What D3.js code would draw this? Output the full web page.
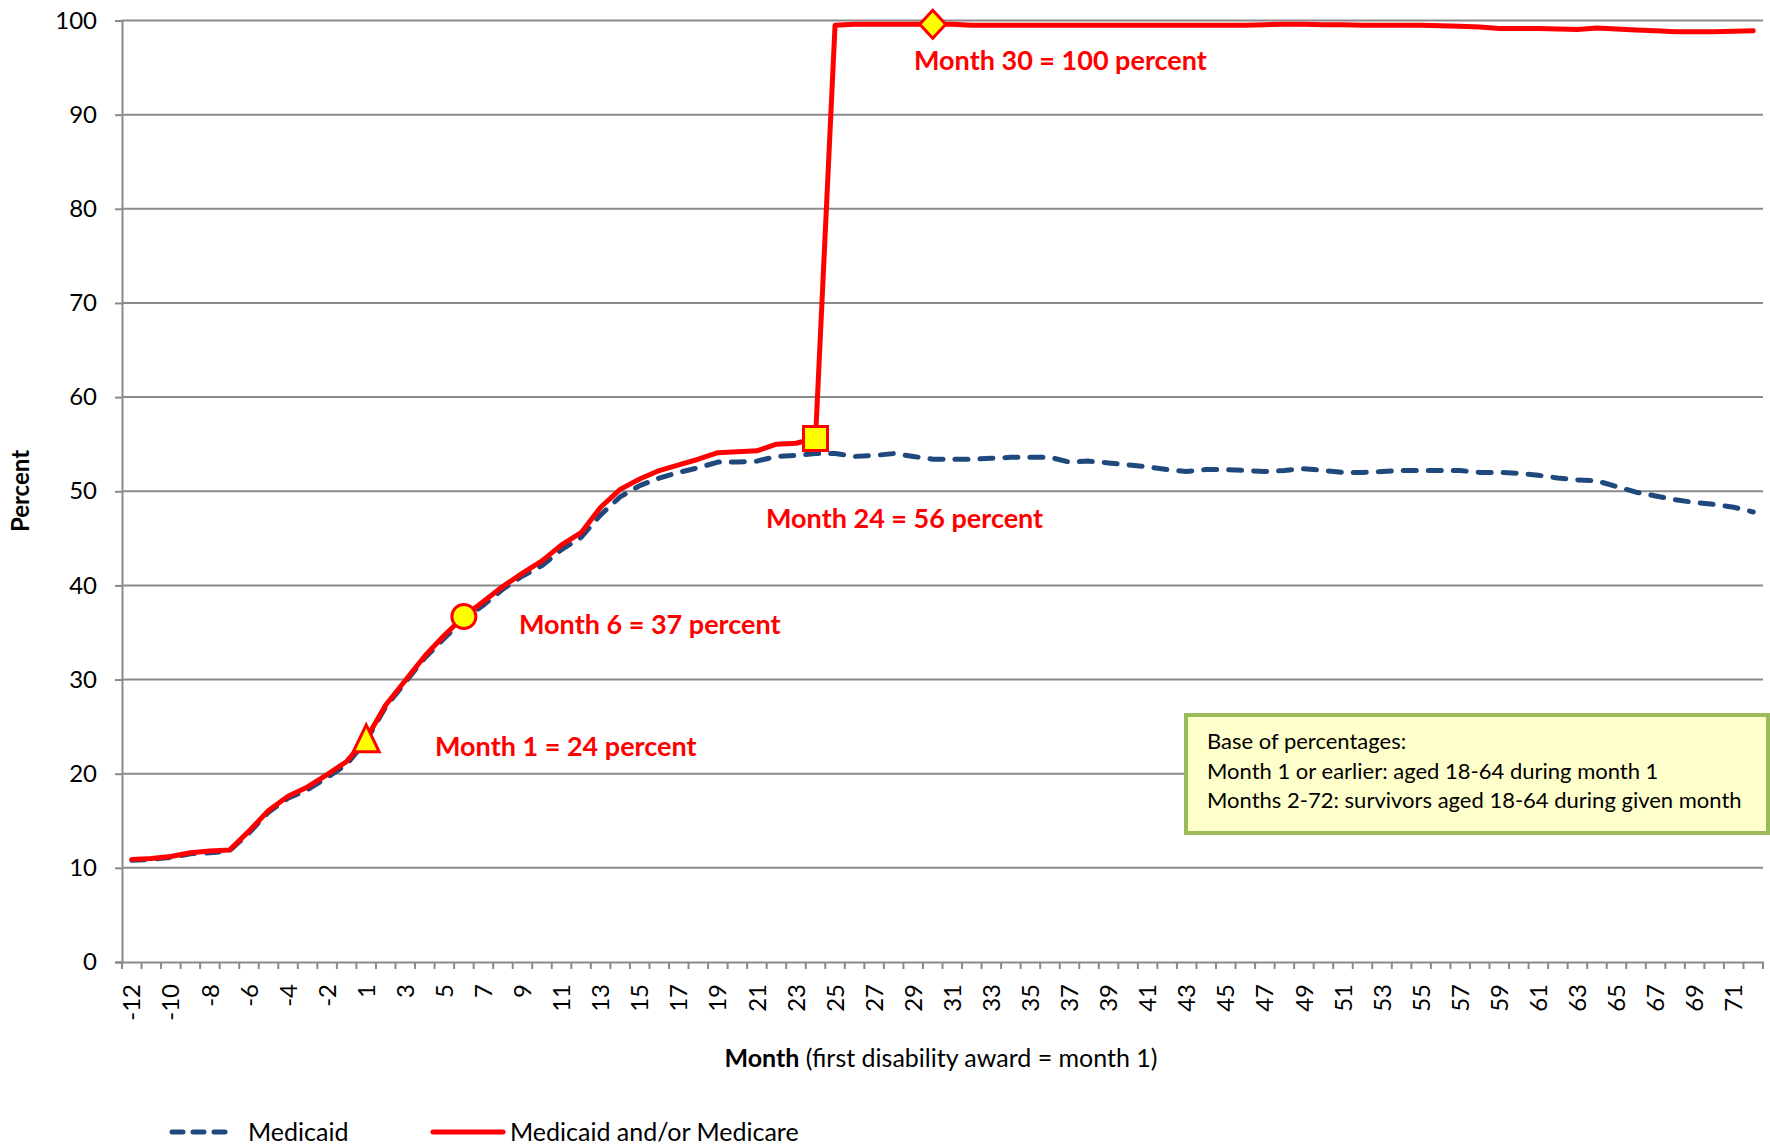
<!DOCTYPE html>
<html>
<head>
<meta charset="utf-8">
<script src="https://cdn.jsdelivr.net/npm/d3@7"></script>
<style>
  html, body { margin: 0; padding: 0; background: #ffffff; }
  svg { display: block; }
  text { font-family: Lato, "Noto Sans", sans-serif; fill: #000; }
</style>
</head>
<body>
<svg id="chart" width="1770" height="1146"></svg>
<script>
// Months relative to first disability award (there is no month 0)
const months = [-12, -11, -10, -9, -8, -7, -6, -5, -4, -3, -2, -1,
  1, 2, 3, 4, 5, 6, 7, 8, 9, 10, 11, 12, 13, 14, 15, 16, 17, 18, 19, 20,
  21, 22, 23, 24, 25, 26, 27, 28, 29, 30, 31, 32, 33, 34, 35, 36, 37, 38,
  39, 40, 41, 42, 43, 44, 45, 46, 47, 48, 49, 50, 51, 52, 53, 54, 55, 56,
  57, 58, 59, 60, 61, 62, 63, 64, 65, 66, 67, 68, 69, 70, 71, 72];

// Percent covered by Medicaid
const medicaid = [10.8, 10.9, 11.1, 11.5, 11.6, 11.8, 13.7, 15.9, 17.4, 18.3, 19.6, 21.0,
  23.5, 27.1, 29.7, 32.3, 34.4, 36.4, 37.9, 39.6, 41.0, 42.1, 43.8, 45.1,
  47.5, 49.4, 50.6, 51.4, 52.0, 52.5, 53.1, 53.1, 53.2, 53.7, 53.8, 54.0,
  54.0, 53.7, 53.8, 54.0, 53.7, 53.4, 53.4, 53.4, 53.5, 53.6, 53.6, 53.6,
  53.1, 53.2, 53.0, 52.8, 52.6, 52.3, 52.1, 52.3, 52.3, 52.2, 52.1, 52.2,
  52.4, 52.2, 52.0, 52.0, 52.1, 52.2, 52.2, 52.2, 52.2, 52.0, 52.0, 51.9,
  51.7, 51.4, 51.2, 51.1, 50.5, 49.9, 49.5, 49.1, 48.8, 48.6, 48.3, 47.8];

// Percent covered by Medicaid and/or Medicare
const medicaidOrMedicare = [10.9, 11.0, 11.2, 11.6, 11.8, 11.9, 13.9, 16.1, 17.6, 18.6, 19.9, 21.3,
  23.7, 27.3, 29.9, 32.5, 34.7, 36.7, 38.3, 39.9, 41.3, 42.6, 44.3, 45.6,
  48.3, 50.2, 51.3, 52.2, 52.8, 53.4, 54.1, 54.2, 54.3, 55.0, 55.1, 55.6,
  99.5, 99.6, 99.6, 99.6, 99.6, 99.6, 99.6, 99.5, 99.5, 99.5, 99.5, 99.5,
  99.5, 99.5, 99.5, 99.5, 99.5, 99.5, 99.5, 99.5, 99.5, 99.5, 99.55, 99.6,
  99.6, 99.55, 99.55, 99.5, 99.5, 99.5, 99.5, 99.45, 99.4, 99.3, 99.15, 99.15,
  99.15, 99.1, 99.05, 99.2, 99.1, 99.0, 98.9, 98.8, 98.8, 98.8, 98.85, 98.9];

const yTicks = [0, 10, 20, 30, 40, 50, 60, 70, 80, 90, 100];
const xLabelMonths = months.filter((m, i) => i % 2 === 0);

// Highlighted months on the combined series
const highlights = [
  { month: 1, shape: "triangle" },
  { month: 6, shape: "circle" },
  { month: 24, shape: "square" },
  { month: 30, shape: "diamond" }
];

const seriesNames = ["Medicaid", "Medicaid and/or Medicare"];
const noteLines = [
  "Base of percentages:",
  "Month 1 or earlier: aged 18-64 during month 1",
  "Months 2-72: survivors aged 18-64 during given month"
];

const RED = "#ff0000", BLUE = "#1f497d", YELLOW = "#ffff00", GRID = "#8a8a8a";

const svg = d3.select("#chart");
const plot = { left: 122, right: 1763, top: 20.5, bottom: 962 };

const x = d3.scaleBand().domain(months).range([plot.left, plot.right]).padding(0);
const xEdge = d3.scaleLinear().domain([0, months.length]).range([plot.left, plot.right]);
const y = d3.scaleLinear().domain([0, 100]).range([plot.bottom, plot.top]);
const cx = m => x(m) + x.bandwidth() / 2;

// Horizontal gridlines
svg.append("g").selectAll("line")
  .data(yTicks.filter(v => v > 0))
  .join("line")
  .attr("x1", plot.left).attr("x2", plot.right)
  .attr("y1", d => y(d)).attr("y2", d => y(d))
  .attr("stroke", GRID).attr("stroke-width", 2);

// Y axis
const yAxis = svg.append("g")
  .attr("transform", `translate(${plot.left},0)`)
  .call(d3.axisLeft(y).tickValues(yTicks).tickSize(7).tickPadding(18));
yAxis.select(".domain").attr("stroke", GRID).attr("stroke-width", 2);
yAxis.selectAll(".tick line").attr("stroke", GRID).attr("stroke-width", 2);
yAxis.selectAll(".tick text").attr("font-size", 24).attr("font-family", "Lato").attr("fill", "#000");

// X axis: boundary ticks between categories
svg.append("g").selectAll("line")
  .data(d3.range(months.length + 1))
  .join("line")
  .attr("x1", d => xEdge(d)).attr("x2", d => xEdge(d))
  .attr("y1", plot.bottom).attr("y2", plot.bottom + 7)
  .attr("stroke", GRID).attr("stroke-width", 2);

const xAxis = svg.append("g")
  .attr("transform", `translate(0,${plot.bottom})`)
  .call(d3.axisBottom(x).tickValues(xLabelMonths).tickSize(0).tickSizeOuter(0));
xAxis.select(".domain").attr("stroke", GRID).attr("stroke-width", 2);
xAxis.selectAll(".tick text")
  .attr("font-size", 24).attr("font-family", "Lato").attr("fill", "#000")
  .attr("transform", "rotate(-90)")
  .attr("text-anchor", "end")
  .attr("x", -22).attr("y", 0).attr("dy", "0.36em");

// Series lines
const line = d3.line().x(d => cx(d.m)).y(d => y(d.v));
const blueData = months.map((m, i) => ({ m, v: medicaid[i] }));
const redData = months.map((m, i) => ({ m, v: medicaidOrMedicare[i] }));

svg.append("path").datum(blueData)
  .attr("d", line).attr("fill", "none")
  .attr("stroke", BLUE).attr("stroke-width", 5)
  .attr("stroke-dasharray", "13,12").attr("stroke-linecap", "round")
  .attr("stroke-linejoin", "round");

svg.append("path").datum(redData)
  .attr("d", line).attr("fill", "none")
  .attr("stroke", RED).attr("stroke-width", 5)
  .attr("stroke-linejoin", "round").attr("stroke-linecap", "round");

// Marker shapes
const shapePath = {
  triangle: "M0,-14 L13,13 L-13,13 Z",
  square: "M-12,-12 L12,-12 L12,12 L-12,12 Z",
  diamond: "M0,-14 L13,0 L0,14 L-13,0 Z"
};
const valueAt = m => medicaidOrMedicare[months.indexOf(m)];

highlights.forEach(h => {
  const px = cx(h.month), py = y(valueAt(h.month));
  if (h.shape === "circle") {
    svg.append("circle").attr("cx", px).attr("cy", py).attr("r", 12)
      .attr("fill", YELLOW).attr("stroke", RED).attr("stroke-width", 3);
  } else {
    svg.append("path").attr("d", shapePath[h.shape])
      .attr("transform", `translate(${px},${py})`)
      .attr("fill", YELLOW).attr("stroke", RED).attr("stroke-width", 3)
      .attr("stroke-linejoin", "miter");
  }
});

// Callout labels for the highlighted months
const callouts = [
  { month: 1, x: 435, y: 756 },
  { month: 6, x: 519, y: 634 },
  { month: 24, x: 766, y: 528 },
  { month: 30, x: 914, y: 70 }
];
svg.append("g").selectAll("text")
  .data(callouts)
  .join("text")
  .attr("x", d => d.x).attr("y", d => d.y)
  .attr("font-size", 27).attr("font-weight", 700)
  .style("fill", RED)
  .text(d => `Month ${d.month} = ${Math.round(valueAt(d.month))} percent`);

// Axis titles
svg.append("text")
  .attr("transform", "translate(29,491) rotate(-90)")
  .attr("text-anchor", "middle")
  .attr("font-size", 24).attr("font-weight", 700)
  .text("Percent");

const xt = svg.append("text")
  .attr("x", 941).attr("y", 1067)
  .attr("text-anchor", "middle")
  .attr("font-size", 25);
xt.append("tspan").attr("font-weight", 700).text("Month");
xt.append("tspan").text(" (first disability award = month 1)");

// Note box
svg.append("rect")
  .attr("x", 1186).attr("y", 715).attr("width", 582).attr("height", 118)
  .attr("fill", "#ffffcc").attr("stroke", "#9bbb59").attr("stroke-width", 4);
svg.append("g").selectAll("text")
  .data(noteLines)
  .join("text")
  .attr("x", 1207).attr("y", (d, i) => 749 + i * 29.5)
  .attr("font-size", 22)
  .text(d => d);

// Legend
const legend = svg.append("g");
legend.append("line")
  .attr("x1", 172).attr("x2", 233).attr("y1", 1132).attr("y2", 1132)
  .attr("stroke", BLUE).attr("stroke-width", 5)
  .attr("stroke-dasharray", "11,10").attr("stroke-linecap", "round");
legend.append("text").attr("x", 248).attr("y", 1141).attr("font-size", 25).text(seriesNames[0]);
legend.append("line")
  .attr("x1", 433).attr("x2", 503).attr("y1", 1132).attr("y2", 1132)
  .attr("stroke", RED).attr("stroke-width", 5).attr("stroke-linecap", "round");
legend.append("text").attr("x", 510).attr("y", 1141).attr("font-size", 25).text(seriesNames[1]);
</script>
</body>
</html>
